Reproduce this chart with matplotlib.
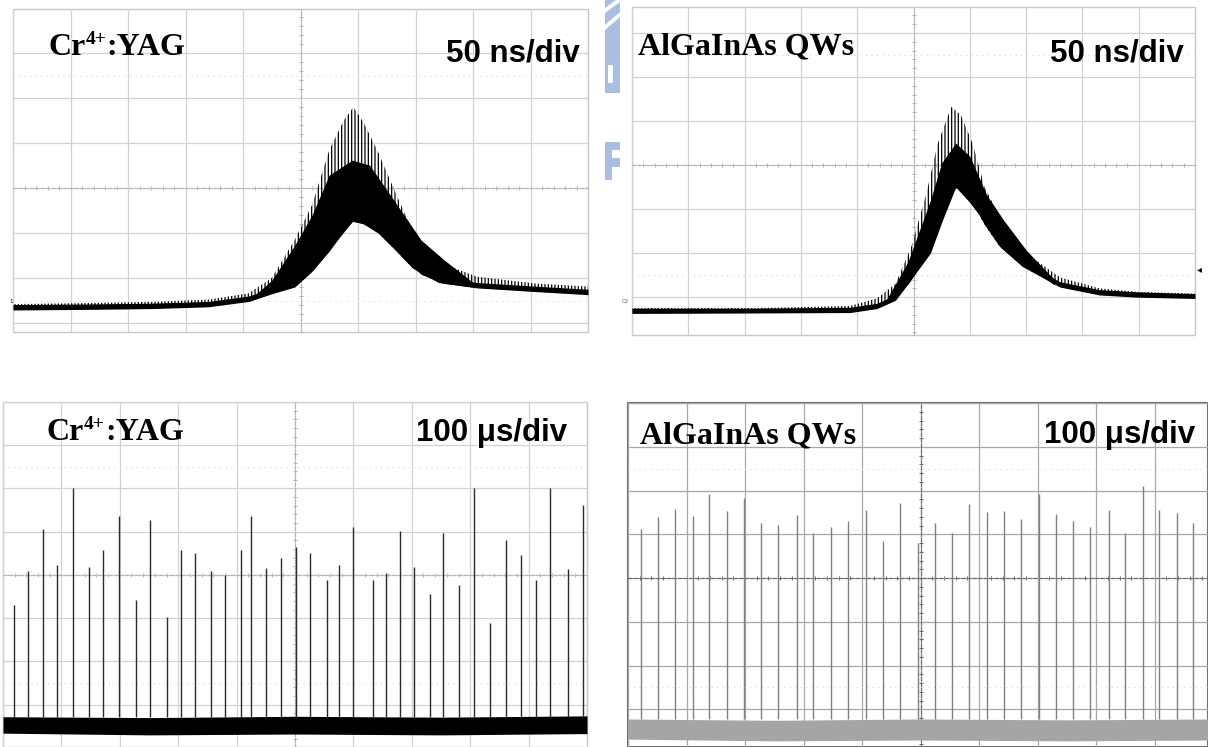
import numpy as np
import matplotlib.pyplot as plt
from matplotlib.patches import Rectangle, Polygon
from matplotlib.ticker import MultipleLocator

plt.rcParams['hatch.linewidth'] = 0.9

W, H = 1208, 747

# --- top left: Cr4+:YAG single pulse (50 ns/div), in screen divisions
tl_t = [0.0, 1.1, 2.4, 3.4, 4.1, 4.5, 4.9, 5.2, 5.5, 5.75, 5.92, 6.1, 6.35, 6.65, 6.95, 7.4, 8.07, 9.07, 10.0]
tl_hi = [-2.58, -2.56, -2.53, -2.48, -2.34, -2.0, -1.15, -0.38, 0.84, 1.5, 1.8, 1.45, 0.8, -0.1, -0.95, -1.65, -1.97, -2.12, -2.19]
tl_lo = [-2.71, -2.70, -2.68, -2.64, -2.52, -2.35, -2.2, -1.85, -1.4, -0.95, -0.72, -0.8, -1.0, -1.38, -1.78, -2.1, -2.22, -2.30, -2.37]
tl_core_t = [4.1, 4.5, 4.9, 5.2, 5.5, 5.9, 6.2, 6.5, 6.8, 7.1, 7.5, 8.0]
tl_core_hi = [-2.5, -2.05, -1.27, -0.6, 0.29, 0.62, 0.51, -0.04, -0.6, -1.16, -1.6, -2.1]
tl_core_lo = [-2.52, -2.33, -2.18, -1.84, -1.38, -0.74, -0.82, -1.14, -1.58, -1.92, -2.12, -2.2]

# --- top right: AlGaInAs QWs single pulse (50 ns/div)
tr_t = [0.0, 2.16, 3.87, 4.35, 4.68, 4.96, 5.23, 5.43, 5.67, 5.84, 6.05, 6.26, 6.53, 6.93, 7.6, 8.3, 8.97, 10.0]
tr_hi = [-3.25, -3.25, -3.2, -3.03, -2.7, -1.86, -0.64, 0.49, 1.32, 1.14, 0.49, -0.49, -1.18, -1.94, -2.55, -2.80, -2.88, -2.92]
tr_lo = [-3.37, -3.36, -3.35, -3.26, -3.07, -2.6, -2.0, -1.3, -0.55, -0.5, -0.85, -1.35, -1.85, -2.3, -2.77, -2.95, -3.0, -3.03]
tr_core_t = [4.5, 4.9, 5.3, 5.5, 5.75, 6.0, 6.3, 6.6, 7.0, 7.5]
tr_core_hi = [-3.1, -2.2, -0.8, 0.05, 0.5, 0.2, -0.68, -1.25, -1.93, -2.6]
tr_core_lo = [-3.15, -2.7, -2.0, -1.3, -0.5, -0.85, -1.36, -1.85, -2.27, -2.72]

# --- bottom left: Cr4+:YAG pulse train (100 us/div)
bl_pos = [0.19, 0.42, 0.68, 0.93, 1.20, 1.47, 1.71, 1.99, 2.28, 2.51, 2.80, 3.04, 3.29, 3.57, 3.80,
          4.07, 4.25, 4.51, 4.76, 5.01, 5.26, 5.54, 5.76, 5.99, 6.33, 6.56, 6.80, 7.03, 7.31, 7.53,
          7.80, 8.07, 8.34, 8.61, 8.87, 9.12, 9.36, 9.67, 9.94]
bl_peak = [-0.69, 0.09, 1.07, 0.24, 2.01, 0.19, 0.57, 1.37, -0.59, 1.28, -0.97, 0.57, 0.50, 0.09, 0.0,
           0.57, 1.37, 0.15, 0.40, 0.65, 0.50, -0.11, 0.24, 1.11, -0.11, 0.04, 1.01, 0.19, -0.43, 0.98,
           -0.24, 2.02, -1.12, 0.80, 0.46, -0.11, 2.02, 0.14, 1.62]
bl_noise_t = [0.0, 2.5, 5.0, 7.5, 10.0]
bl_noise_hi = [-3.28, -3.30, -3.27, -3.29, -3.26]
bl_noise_lo = [-3.66, -3.70, -3.68, -3.70, -3.67]

# --- bottom right: AlGaInAs QWs pulse train (100 us/div)
br_pos = [0.22, 0.52, 0.81, 1.11, 1.39, 1.70, 1.99, 2.28, 2.57, 2.88, 3.16, 3.47, 3.76, 4.06, 4.36,
          4.65, 4.95, 5.24, 5.54, 5.83, 6.13, 6.43, 6.72, 7.02, 7.31, 7.61, 7.89, 8.21, 8.49, 8.80,
          9.08, 9.38, 9.66]
br_peak = [1.13, 1.40, 1.57, 1.42, 1.93, 1.53, 1.84, 1.25, 1.21, 1.44, 1.02, 1.16, 1.31, 1.55, 0.85,
           1.71, 0.81, 1.25, 1.02, 1.69, 1.51, 1.53, 1.35, 1.92, 1.46, 1.31, 1.16, 1.55, 1.02, 2.10,
           1.55, 1.48, 1.25]
br_noise_t = [0.0, 2.5, 5.0, 7.5, 10.0]
br_noise_hi = [-3.22, -3.25, -3.22, -3.24, -3.22]
br_noise_lo = [-3.68, -3.72, -3.70, -3.72, -3.70]

fig = plt.figure(figsize=(W / 100, H / 100), dpi=100)
renderer = fig.canvas.get_renderer()


def panel(box, xlim, ylim, grid_color='#d2d2d2', center_color='#b4b4b4', frame_color='#c8c8c8', frame_lw=1.0):
    l, t, r, b = box
    ax = fig.add_axes([l / W, 1 - b / H, (r - l) / W, (b - t) / H])
    ax.set_xticks(np.arange(0, 11))
    ax.set_yticks(np.arange(-4, 5))
    ax.xaxis.set_minor_locator(MultipleLocator(0.2))
    ax.yaxis.set_minor_locator(MultipleLocator(0.2))
    ax.set_xlim(*xlim)
    ax.set_ylim(*ylim)
    ax.grid(True, which='major', color=grid_color, lw=0.9)
    ax.tick_params(which='major', length=0, labelbottom=False, labelleft=False)
    ax.tick_params(which='minor', length=3, direction='inout', color=center_color, width=0.7)
    ax.spines['top'].set_visible(False)
    ax.spines['right'].set_visible(False)
    ax.spines['left'].set_position(('data', 5))
    ax.spines['bottom'].set_position(('data', 0))
    for s in ('left', 'bottom'):
        ax.spines[s].set_color(center_color)
        ax.spines[s].set_linestyle((0, (3, 2)))
        ax.spines[s].set_linewidth(0.8)
    ax.add_patch(Rectangle((0, 0), 1, 1, transform=ax.transAxes, fill=False,
                           ec=frame_color, lw=frame_lw, clip_on=False))
    for yv in (2.5, -2.5):
        ax.axhline(yv, color='#dadada', lw=0.8, ls=(0, (1, 4)))
    return ax


def fig_text(x, y, s, **kw):
    return fig.text(x / W, 1 - y / H, s, **kw)


serif = dict(family='Liberation Serif', weight='bold', size=23, va='baseline')
sans = dict(family='Liberation Sans', weight='bold', size=22.5, va='baseline')


def cr_label(x, y):
    t1 = fig_text(x, y, 'Cr', **serif)
    x1 = t1.get_window_extent(renderer).x1
    t2 = fig.text(x1 / W, 1 - (y - 11) / H, '4+', family='Liberation Serif', weight='bold',
                  size=14, va='baseline')
    x2 = t2.get_window_extent(renderer).x1
    fig.text(x2 / W, 1 - y / H, ':YAG', **serif)


def pulse(ax, t, lo, hi, core_t, core_lo, core_hi):
    ax.fill_between(t, lo, hi, facecolor='none', edgecolor='black', hatch='|||||', lw=0, zorder=3)
    ax.fill_between(t, lo, np.minimum(hi, np.array(lo) + 0.12), color='black', lw=0, zorder=3)
    ax.fill_between(core_t, core_lo, core_hi, color='black', lw=0, zorder=3)


# top left
ax1 = panel((13, 9, 588, 332), (0, 10), (-3.2, 3.98))
pulse(ax1, tl_t, tl_lo, tl_hi, tl_core_t, tl_core_lo, tl_core_hi)
cr_label(48, 55)
fig_text(580, 61, '50 ns/div', ha='right', **sans)
fig_text(11, 302, '1', ha='center', size=4, va='center')

# top right
ax2 = panel((632, 7, 1195, 335), (0, 10), (-3.86, 3.59))
pulse(ax2, tr_t, tr_lo, tr_hi, tr_core_t, tr_core_lo, tr_core_hi)
fig_text(638, 54, 'AlGaInAs QWs', ha='left', **serif)
fig_text(1184, 61, '50 ns/div', ha='right', **sans)
fig_text(625, 302, 'C2', ha='center', size=4, va='center', color='#555555')
fig_text(1199, 269, '\u25c2', ha='center', va='center', size=7, family='DejaVu Sans')

# watermark fragment between the top panels
blue = '#aabde2'
for x0, y0, w, h, c in [(605, 0, 15, 93, blue), (605, 142, 15, 8, blue),
                        (605, 158, 15, 9, blue), (605, 150, 7, 30, blue),
                        (608, 65, 5, 18, 'white')]:
    fig.patches.append(Rectangle((x0 / W, 1 - (y0 + h) / H), w / W, h / H,
                                 transform=fig.transFigure, color=c, lw=0))
for pts in ([(605, 8), (620, -3), (620, 2), (605, 13)], [(605, 25), (620, 12), (620, 17), (605, 30)]):
    fig.patches.append(Polygon([(px / W, 1 - py / H) for px, py in pts], closed=True,
                               transform=fig.transFigure, color='white', lw=0))

# bottom left
ax3 = panel((3, 402, 587, 747), (0, 10), (-3.98, 4.0))
ax3.fill_between(bl_noise_t, bl_noise_lo, bl_noise_hi, color='black', lw=0, zorder=3)
ax3.vlines(bl_pos, bl_noise_hi[0], bl_peak, color='#2a2a2a', lw=1.0, zorder=3)
cr_label(47, 440)
fig_text(567, 441, '100 \u03bcs/div', ha='right', **sans)

# bottom right
ax4 = panel((628, 403, 1208, 747), (0, 9.91), (-3.86, 4.0),
            grid_color='#a8a8a8', center_color='#6a6a6a', frame_color='#707070', frame_lw=1.5)
ax4.fill_between(br_noise_t, br_noise_lo, br_noise_hi, color='#a5a5a5', lw=0, zorder=3)
ax4.vlines(br_pos, br_noise_hi[0], br_peak, color='#808080', lw=1.0, zorder=3)
fig_text(640, 443, 'AlGaInAs QWs', ha='left', **serif)
fig_text(1195, 443, '100 \u03bcs/div', ha='right', **sans)

fig.savefig('out.png', dpi=100, facecolor='white')
